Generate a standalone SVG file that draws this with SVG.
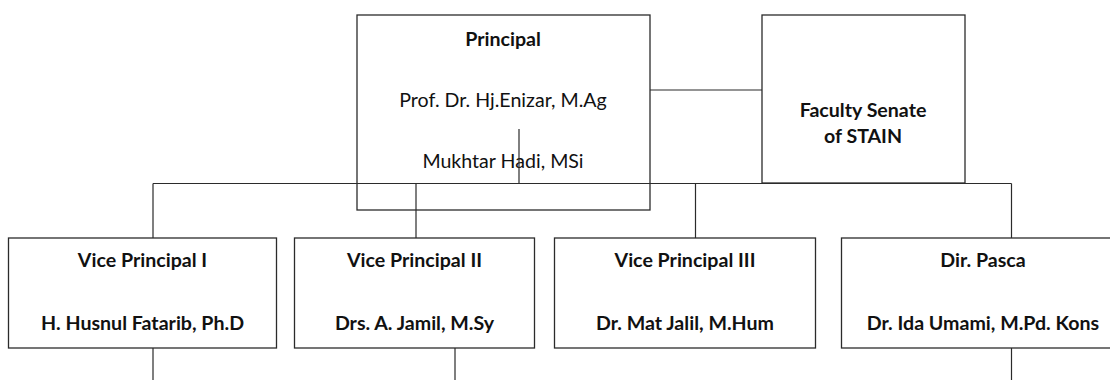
<svg xmlns="http://www.w3.org/2000/svg" width="1110" height="380" viewBox="0 0 1110 380">
<style>
.box{fill:#fff;stroke:#2b2b2b;stroke-width:1.3}
.ln{stroke:#2b2b2b;stroke-width:1.2;fill:none}
.t{font-family:Lato,"Open Sans","Liberation Sans",sans-serif;font-size:19.6px;fill:#111;text-anchor:middle}
.b{font-weight:bold}
</style>
<rect x="0" y="0" width="1110" height="380" fill="#fff"/>
<g id="principal">
<rect class="box" x="357" y="15" width="293" height="195"/>
<text class="t b" x="503" y="46">Principal</text>
<text class="t" x="503" y="107">Prof. Dr. Hj.Enizar, M.Ag</text>
<text class="t" x="503" y="168">Mukhtar Hadi, MSi</text>
</g>
<g id="senate">
<rect class="box" x="762" y="15" width="203" height="168"/>
<text class="t b" x="863" y="117">Faculty Senate</text>
<text class="t b" x="863" y="143">of STAIN</text>
</g>
<g id="vp1">
<rect class="box" x="8.5" y="238" width="268" height="110"/>
<text class="t b" x="142.5" y="267">Vice Principal I</text>
<text class="t b" x="142.5" y="330">H. Husnul Fatarib, Ph.D</text>
</g>
<g id="vp2">
<rect class="box" x="294.5" y="238" width="240" height="110"/>
<text class="t b" x="414.5" y="267">Vice Principal II</text>
<text class="t b" x="414.5" y="330">Drs. A. Jamil, M.Sy</text>
</g>
<g id="vp3">
<rect class="box" x="554.5" y="238" width="261" height="110"/>
<text class="t b" x="685" y="267">Vice Principal III</text>
<text class="t b" x="685" y="330">Dr. Mat Jalil, M.Hum</text>
</g>
<g id="pasca">
<rect class="box" x="841.5" y="238" width="290" height="110"/>
<text class="t b" x="983" y="267">Dir. Pasca</text>
<text class="t b" x="983" y="330">Dr. Ida Umami, M.Pd. Kons</text>
</g>
<g id="connectors">
<path class="ln" d="M650 90H762"/>
<path class="ln" d="M153 183.5H1011.5"/>
<path class="ln" d="M519 129V183.5"/>
<path class="ln" d="M153 183.5V238M416 183.5V238M695.5 183.5V238M1011.5 183.5V238"/>
<path class="ln" d="M153 348V380M455 348V380M1011.5 348V380"/>
</g>
</svg>
